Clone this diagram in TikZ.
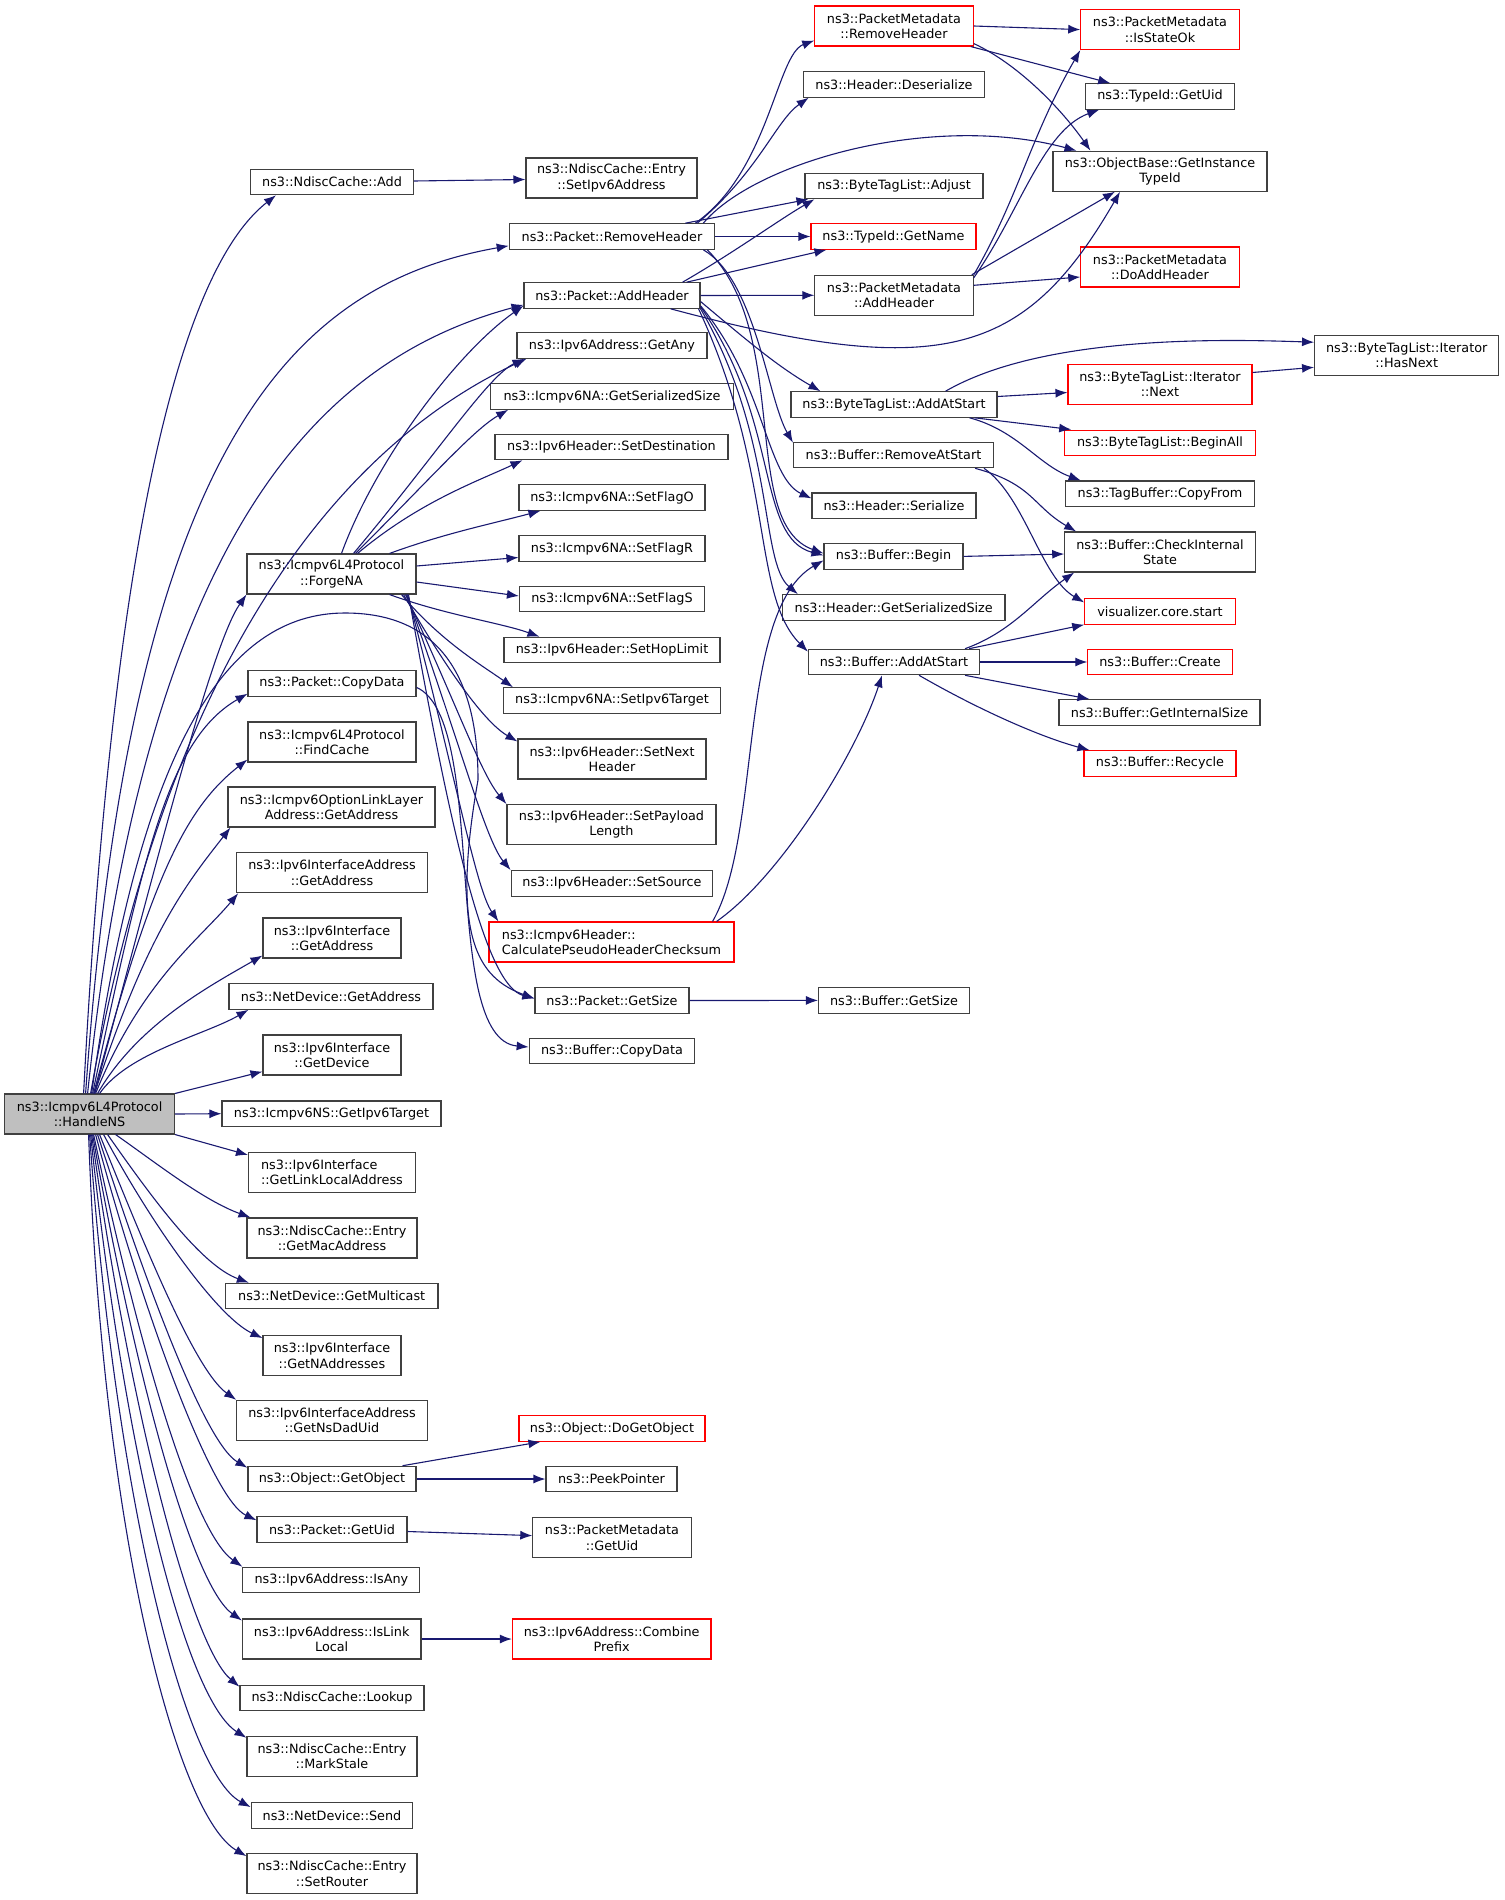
\documentclass[tikz,border=0pt]{standalone}
\usepackage{fontspec}
\setmainfont{DejaVu Sans}
\usetikzlibrary{arrows.meta}
\definecolor{edgeblue}{RGB}{25,25,112}
\definecolor{boxgrey}{RGB}{191,191,191}
\begin{document}
\begin{tikzpicture}[x=1pt,y=1pt,
  fn/.style={draw=black!75,line width=1.1pt,fill=white,inner sep=0pt,minimum height=25.5pt,align=center,font=\fontsize{12.8}{15.3}\selectfont},
  fn2/.style={fn,minimum height=40pt},
  fnred/.style={fn,draw=red},
  fnred2/.style={fn2,draw=red},
  call/.style={draw=edgeblue,line width=1.1pt,-{Latex[length=12pt,width=9pt]}}]
\useasboundingbox (0,0) rectangle (1504,-1900);
\node[fn2,fill=boxgrey,minimum width=170pt] (hns) at (89.6,-1114) {ns3::Icmpv6L4Protocol\\::HandleNS};
\node[fn,minimum width=163pt] (ncadd) at (332,-182) {ns3::NdiscCache::Add};
\node[fn2,minimum width=171pt] (setip) at (611.5,-178) {ns3::NdiscCache::Entry\\::SetIpv6Address};
\node[fn,minimum width=205.5pt] (rmh) at (612,-236.5) {ns3::Packet::RemoveHeader};
\node[fn,minimum width=176pt] (addh) at (612,-295.5) {ns3::Packet::AddHeader};
\node[fn,minimum width=190pt] (getany) at (612,-345.5) {ns3::Ipv6Address::GetAny};
\node[fn,minimum width=242.5pt] (naser) at (612,-396.5) {ns3::Icmpv6NA::GetSerializedSize};
\node[fn,minimum width=233pt] (setdst) at (611.5,-447) {ns3::Ipv6Header::SetDestination};
\node[fn,minimum width=186pt] (flago) at (612,-497.5) {ns3::Icmpv6NA::SetFlagO};
\node[fn,minimum width=186pt] (flagr) at (612,-548.5) {ns3::Icmpv6NA::SetFlagR};
\node[fn,minimum width=185pt] (flags) at (612,-599) {ns3::Icmpv6NA::SetFlagS};
\node[fn2,minimum width=169pt] (forgena) at (331.5,-574) {ns3::Icmpv6L4Protocol\\::ForgeNA};
\node[fn,minimum width=216pt] (hoplim) at (612,-650) {ns3::Ipv6Header::SetHopLimit};
\node[fn,minimum width=217pt] (settgt) at (612,-700.5) {ns3::Icmpv6NA::SetIpv6Target};
\node[fn2,minimum width=188pt] (nexthdr) at (612,-759) {ns3::Ipv6Header::SetNext\\Header};
\node[fn2,minimum width=209pt] (paylen) at (611.5,-824.6) {ns3::Ipv6Header::SetPayload\\Length};
\node[fn,minimum width=201.6pt] (setsrc) at (612,-883.4) {ns3::Ipv6Header::SetSource};
\node[fnred2,minimum width=245pt,align=left] (chksum) at (611.5,-942) {ns3::Icmpv6Header::\\CalculatePseudoHeaderChecksum};
\node[fn,minimum width=154pt] (pgetsize) at (612,-1000.5) {ns3::Packet::GetSize};
\node[fn,minimum width=165.6pt] (bcopy) at (612,-1051) {ns3::Buffer::CopyData};
\node[fn,minimum width=168pt] (pcopy) at (332,-683.4) {ns3::Packet::CopyData};
\node[fn2,minimum width=168pt] (findcache) at (332,-742) {ns3::Icmpv6L4Protocol\\::FindCache};
\node[fn2,minimum width=207pt] (optll) at (331.5,-807) {ns3::Icmpv6OptionLinkLayer\\Address::GetAddress};
\node[fn2,minimum width=190.5pt] (ifaddrget) at (332,-872.7) {ns3::Ipv6InterfaceAddress\\::GetAddress};
\node[fn2,minimum width=138pt] (ifget) at (332,-938) {ns3::Ipv6Interface\\::GetAddress};
\node[fn,minimum width=204pt] (ndget) at (331,-996.5) {ns3::NetDevice::GetAddress};
\node[fn2,minimum width=138pt] (ifdev) at (332,-1055) {ns3::Ipv6Interface\\::GetDevice};
\node[fn,minimum width=219pt] (nstgt) at (331.5,-1113.7) {ns3::Icmpv6NS::GetIpv6Target};
\node[fn2,minimum width=167pt,align=left] (linkloc) at (332,-1172.5) {ns3::Ipv6Interface\\::GetLinkLocalAddress};
\node[fn2,minimum width=170pt] (macaddr) at (332,-1238) {ns3::NdiscCache::Entry\\::GetMacAddress};
\node[fn,minimum width=212.6pt] (multicast) at (331.7,-1296) {ns3::NetDevice::GetMulticast};
\node[fn2,minimum width=138pt] (naddr) at (332,-1355.6) {ns3::Ipv6Interface\\::GetNAddresses};
\node[fn2,minimum width=190.5pt] (dadu) at (332,-1420.3) {ns3::Ipv6InterfaceAddress\\::GetNsDadUid};
\node[fn,minimum width=168pt] (getobj) at (332,-1479) {ns3::Object::GetObject};
\node[fn,minimum width=150pt] (puid) at (332,-1529.5) {ns3::Packet::GetUid};
\node[fn,minimum width=177pt] (isany) at (331.4,-1580) {ns3::Ipv6Address::IsAny};
\node[fn2,minimum width=178.6pt] (islink) at (331.7,-1639) {ns3::Ipv6Address::IsLink\\Local};
\node[fn,minimum width=184pt] (lookup) at (332,-1698) {ns3::NdiscCache::Lookup};
\node[fn2,minimum width=170pt] (stale) at (332,-1756.3) {ns3::NdiscCache::Entry\\::MarkStale};
\node[fn,minimum width=161.5pt] (send) at (332,-1815.4) {ns3::NetDevice::Send};
\node[fn2,minimum width=170pt] (router) at (332,-1873.7) {ns3::NdiscCache::Entry\\::SetRouter};
\node[fnred,minimum width=186pt] (dogetobj) at (612,-1428.5) {ns3::Object::DoGetObject};
\node[fn,minimum width=131pt] (peek) at (611.5,-1479) {ns3::PeekPointer};
\node[fn2,minimum width=158.3pt] (pmuid) at (612,-1537.6) {ns3::PacketMetadata\\::GetUid};
\node[fnred2,minimum width=198.6pt] (combine) at (611.7,-1639) {ns3::Ipv6Address::Combine\\Prefix};
\node[fnred2,minimum width=158.4pt] (pmrm) at (894,-26) {ns3::PacketMetadata\\::RemoveHeader};
\node[fn,minimum width=181.6pt] (deser) at (894,-84.4) {ns3::Header::Deserialize};
\node[fn,minimum width=178pt] (adjust) at (894,-186) {ns3::ByteTagList::Adjust};
\node[fnred,minimum width=165pt] (getname) at (893.5,-236.5) {ns3::TypeId::GetName};
\node[fn2,minimum width=158.4pt] (pmadd) at (894,-295.3) {ns3::PacketMetadata\\::AddHeader};
\node[fn,minimum width=206pt] (btadd) at (894,-404.5) {ns3::ByteTagList::AddAtStart};
\node[fn,minimum width=200pt] (brm) at (893.5,-455) {ns3::Buffer::RemoveAtStart};
\node[fn,minimum width=164pt] (hser) at (894,-505.7) {ns3::Header::Serialize};
\node[fn,minimum width=139pt] (bbegin) at (893.5,-556.4) {ns3::Buffer::Begin};
\node[fn,minimum width=222.6pt] (hgss) at (893.7,-607.4) {ns3::Header::GetSerializedSize};
\node[fn,minimum width=171pt] (baddat) at (894,-662) {ns3::Buffer::AddAtStart};
\node[fn,minimum width=151pt] (bgetsize) at (894,-1000.4) {ns3::Buffer::GetSize};
\node[fnred2,minimum width=158.4pt] (isok) at (1160,-29.6) {ns3::PacketMetadata\\::IsStateOk};
\node[fn,minimum width=148.5pt] (getuid) at (1160,-96.4) {ns3::TypeId::GetUid};
\node[fn2,minimum width=214pt] (instid) at (1160,-171.2) {ns3::ObjectBase::GetInstance\\TypeId};
\node[fnred2,minimum width=158.4pt] (doadd) at (1160,-267) {ns3::PacketMetadata\\::DoAddHeader};
\node[fnred2,minimum width=184pt] (itnext) at (1160,-384.5) {ns3::ByteTagList::Iterator\\::Next};
\node[fnred,minimum width=190.5pt] (beginall) at (1160,-442.8) {ns3::ByteTagList::BeginAll};
\node[fn,minimum width=189.6pt] (copyfrom) at (1160,-493.7) {ns3::TagBuffer::CopyFrom};
\node[fn2,minimum width=190.5pt] (chkstate) at (1160,-552) {ns3::Buffer::CheckInternal\\State};
\node[fnred,minimum width=150.5pt] (vizstart) at (1160,-611.4) {visualizer.core.start};
\node[fnred,minimum width=144.3pt] (bcreate) at (1160,-662) {ns3::Buffer::Create};
\node[fn,minimum width=201pt] (bintsize) at (1159.5,-712.4) {ns3::Buffer::GetInternalSize};
\node[fnred,minimum width=152pt] (brecycle) at (1160,-763.4) {ns3::Buffer::Recycle};
\node[fn2,minimum width=184.2pt] (hasnext) at (1406.7,-355.3) {ns3::ByteTagList::Iterator\\::HasNext};
\draw[call] ([xshift=-6pt]hns.north) .. controls +(87:600) and +(218:110) .. ([xshift=26pt]ncadd.south west);
\draw[call] ([xshift=-4pt]hns.north) .. controls +(86:650) and +(190:220) .. ([yshift=4pt]rmh.south west);
\draw[call] ([xshift=-2pt]hns.north) .. controls +(84:550) and +(195:220) .. ([yshift=4pt]addh.south west);
\draw[call] ([xshift=1pt]hns.north) .. controls +(80:450) and +(205:200) .. ([xshift=10pt]getany.south west);
\draw[call] ([xshift=5pt]hns.north) .. controls +(75:250) and +(235:60) .. (forgena.south west);
\draw[call] ([xshift=2pt]hns.north) .. controls +(82:350) and +(180:120) .. (345,-613) .. controls +(0:110) and +(90:80) .. (478,-780) .. controls +(-100:160) and +(160:60) .. ([yshift=2pt]pgetsize.west);
\draw[call] ([xshift=3pt]hns.north) .. controls +(78:250) and +(210:90) .. ([yshift=3pt]pcopy.south west);
\draw[call] ([xshift=4pt]hns.north) .. controls +(75:220) and +(218:80) .. ([yshift=3pt]findcache.south west);
\draw[call] ([xshift=5pt]hns.north) .. controls +(72:170) and +(232:70) .. ([xshift=3pt]optll.south west);
\draw[call] ([xshift=6pt]hns.north) .. controls +(68:120) and +(230:60) .. ([xshift=2pt]ifaddrget.south west);
\draw[call] ([xshift=8pt]hns.north) .. controls +(60:80) and +(210:60) .. ([yshift=3pt]ifget.south west);
\draw[call] ([xshift=10pt]hns.north) .. controls +(55:50) and +(210:50) .. ([xshift=20pt]ndget.south west);
\draw[call] (hns.north east) -- ([yshift=4pt]ifdev.south west);
\draw[call] (hns.east) -- (nstgt.west);
\draw[call] (hns.south east) -- ([yshift=-3pt]linkloc.north west);
\draw[call] ([xshift=26pt]hns.south) .. controls +(-35:50) and +(160:50) .. ([xshift=4pt]macaddr.north west);
\draw[call] ([xshift=18pt]hns.south) .. controls +(-55:80) and +(160:50) .. ([xshift=24pt]multicast.north west);
\draw[call] ([xshift=14pt]hns.south) .. controls +(-62:100) and +(155:50) .. ([yshift=-3pt]naddr.north west);
\draw[call] ([xshift=10pt]hns.south) .. controls +(-68:120) and +(145:50) .. (dadu.north west);
\draw[call] ([xshift=8pt]hns.south) .. controls +(-72:150) and +(150:50) .. ([yshift=-2pt]getobj.north west);
\draw[call] ([xshift=6pt]hns.south) .. controls +(-75:180) and +(155:50) .. ([yshift=-4pt]puid.north west);
\draw[call] ([xshift=4pt]hns.south) .. controls +(-78:220) and +(145:60) .. (isany.north west);
\draw[call] ([xshift=3pt]hns.south) .. controls +(-80:250) and +(145:60) .. ([yshift=-2pt]islink.north west);
\draw[call] ([xshift=2pt]hns.south) .. controls +(-82:300) and +(140:60) .. ([yshift=-2pt]lookup.north west);
\draw[call] ([xshift=1pt]hns.south) .. controls +(-84:330) and +(148:70) .. ([yshift=-2pt]stale.north west);
\draw[call] (hns.south) .. controls +(-86:360) and +(152:75) .. ([yshift=-5pt]send.north west);
\draw[call] ([xshift=-1pt]hns.south) .. controls +(-88:400) and +(150:80) .. ([yshift=-3pt]router.north west);
\draw[call] ([xshift=10pt]forgena.north) .. controls +(70:100) and +(215:80) .. ([yshift=3pt]addh.south west);
\draw[call] ([xshift=22pt]forgena.north) .. controls +(50:130) and +(205:40) .. ([xshift=8pt]getany.south west);
\draw[call] ([xshift=24pt]forgena.north) .. controls +(45:110) and +(210:40) .. ([xshift=18pt]naser.south west);
\draw[call] ([xshift=26pt]forgena.north) .. controls +(40:80) and +(205:50) .. ([xshift=28pt]setdst.south west);
\draw[call] ([xshift=58pt]forgena.north) .. controls +(20:60) and +(195:50) .. ([xshift=22pt]flago.south west);
\draw[call] ([yshift=8pt]forgena.east) -- ([yshift=-9pt]flagr.west);
\draw[call] ([yshift=-8pt]forgena.east) -- ([yshift=3pt]flags.west);
\draw[call] ([xshift=58pt]forgena.south) .. controls +(-20:60) and +(160:40) .. ([xshift=36pt]hoplim.north west);
\draw[call] ([xshift=70pt]forgena.south) .. controls +(-50:60) and +(145:40) .. ([xshift=10pt]settgt.north west);
\draw[call] ([xshift=72pt]forgena.south) .. controls +(-60:80) and +(150:40) .. ([yshift=-3pt]nexthdr.north west);
\draw[call] ([xshift=74pt]forgena.south) .. controls +(-65:120) and +(130:40) .. (paylen.north west);
\draw[call] ([xshift=75pt]forgena.south) .. controls +(-70:150) and +(130:40) .. (setsrc.north west);
\draw[call] ([xshift=76pt]forgena.south) .. controls +(-75:180) and +(125:40) .. ([xshift=10pt]chksum.north west);
\draw[call] ([xshift=77pt]forgena.south) .. controls +(-80:250) and +(165:50) .. ([yshift=2pt]pgetsize.west);
\draw[call] ([yshift=-4pt]pcopy.east) .. controls +(-24:80) and +(175:90) .. ([yshift=4pt]bcopy.west);
\draw[call] (pgetsize.east) -- (bgetsize.west);
\draw[call] ([xshift=-14pt]getobj.north east) -- ([xshift=22pt]dogetobj.south west);
\draw[call] (getobj.east) -- (peek.west);
\draw[call] ([yshift=-2pt]puid.east) -- ([yshift=2pt]pmuid.west);
\draw[call] (islink.east) -- (combine.west);
\draw[call] ([yshift=1pt]ncadd.east) -- ([yshift=-1.5pt]setip.west);
\draw[call] ([xshift=-22pt]chksum.north east) .. controls +(60:100) and +(210:100) .. ([yshift=-4pt]bbegin.west);
\draw[call] ([xshift=-18pt]chksum.north east) .. controls +(35:80) and +(-108:80) .. ([xshift=-12pt]baddat.south);
\draw[call] ([xshift=-20pt]rmh.north east) .. controls +(35:90) and +(200:40) .. ([yshift=6pt]pmrm.south west);
\draw[call] ([xshift=-18pt]rmh.north east) .. controls +(40:80) and +(215:40) .. ([xshift=6pt]deser.south west);
\draw[call] ([xshift=-12pt]rmh.north east) .. controls +(50:80) and +(165:150) .. ([xshift=24pt]instid.north west);
\draw[call] ([xshift=-30pt]rmh.north east) -- ([xshift=4pt]adjust.south west);
\draw[call] (rmh.east) -- (getname.west);
\draw[call] ([xshift=-12pt]rmh.south east) .. controls +(-30:60) and +(120:50) .. ([yshift=-1pt]brm.north west);
\draw[call] ([xshift=-8pt]rmh.south east) .. controls +(-45:120) and +(160:90) .. ([yshift=3pt]bbegin.west);
\draw[call] ([xshift=-18pt]addh.north east) .. controls +(30:60) and +(210:40) .. ([xshift=10pt]adjust.south west);
\draw[call] ([xshift=-14pt]addh.north east) -- ([xshift=16pt]getname.south west);
\draw[call] (addh.east) -- (pmadd.west);
\draw[call] ([xshift=-30pt]addh.south east) .. controls +(-15:280) and +(-120:190) .. ([xshift=-40pt]instid.south);
\draw[call] ([yshift=-6pt]addh.east) .. controls +(-40:60) and +(150:50) .. ([xshift=30pt]btadd.north west);
\draw[call] ([yshift=3pt]addh.south east) .. controls +(-50:100) and +(155:50) .. ([yshift=-6pt]hser.north west);
\draw[call] ([yshift=2pt]addh.south east) .. controls +(-55:140) and +(165:70) .. ([yshift=1pt]bbegin.west);
\draw[call] (addh.south east) .. controls +(-60:150) and +(140:50) .. ([xshift=16pt]hgss.north west);
\draw[call] ([xshift=-2pt]addh.south east) .. controls +(-65:180) and +(135:80) .. ([yshift=-3pt]baddat.north west);
\draw[call] (pmrm.east) -- (isok.west);
\draw[call] ([xshift=-3pt]pmrm.south east) -- ([xshift=25pt]getuid.north west);
\draw[call] ([yshift=3pt]pmrm.south east) .. controls +(-25:50) and +(125:50) .. ([xshift=38pt]instid.north west);
\draw[call] (pmadd.north east) .. controls +(60:90) and +(-120:100) .. (isok.south west);
\draw[call] ([yshift=-3pt]pmadd.north east) .. controls +(55:80) and +(200:60) .. ([xshift=14pt]getuid.south west);
\draw[call] ([xshift=-2pt]pmadd.north east) -- ([xshift=-45pt]instid.south);
\draw[call] ([yshift=10pt]pmadd.east) -- ([yshift=-10pt]doadd.west);
\draw[call] ([xshift=-52pt]btadd.north east) .. controls +(30:110) and +(178:100) .. ([yshift=-7.5pt]hasnext.north west);
\draw[call] ([yshift=8pt]btadd.east) -- ([yshift=-8pt]itnext.west);
\draw[call] ([xshift=-23pt]btadd.south east) -- ([xshift=7pt]beginall.north west);
\draw[call] ([xshift=-28pt]btadd.south east) .. controls +(-15:50) and +(160:45) .. ([xshift=16pt]copyfrom.north west);
\draw[call] ([yshift=12pt]itnext.east) -- ([yshift=-12pt]hasnext.west);
\draw[call] ([xshift=-19pt]brm.south east) .. controls +(-15:60) and +(150:50) .. ([xshift=12pt]chkstate.north west);
\draw[call] ([xshift=-10pt]brm.south east) .. controls +(-35:50) and +(150:50) .. ([yshift=9pt]vizstart.west);
\draw[call] (bbegin.east) -- ([yshift=-2pt]chkstate.west);
\draw[call] ([xshift=-15pt]baddat.north east) .. controls +(20:50) and +(215:50) .. ([xshift=10pt]chkstate.south west);
\draw[call] ([xshift=-11pt]baddat.north east) -- (vizstart.south west);
\draw[call] (baddat.east) -- (bcreate.west);
\draw[call] ([xshift=-15pt]baddat.south east) -- ([xshift=31pt]bintsize.north west);
\draw[call] ([xshift=-61pt]baddat.south east) .. controls +(-30:70) and +(165:50) .. ([xshift=6pt]brecycle.north west);
\end{tikzpicture}
\end{document}
